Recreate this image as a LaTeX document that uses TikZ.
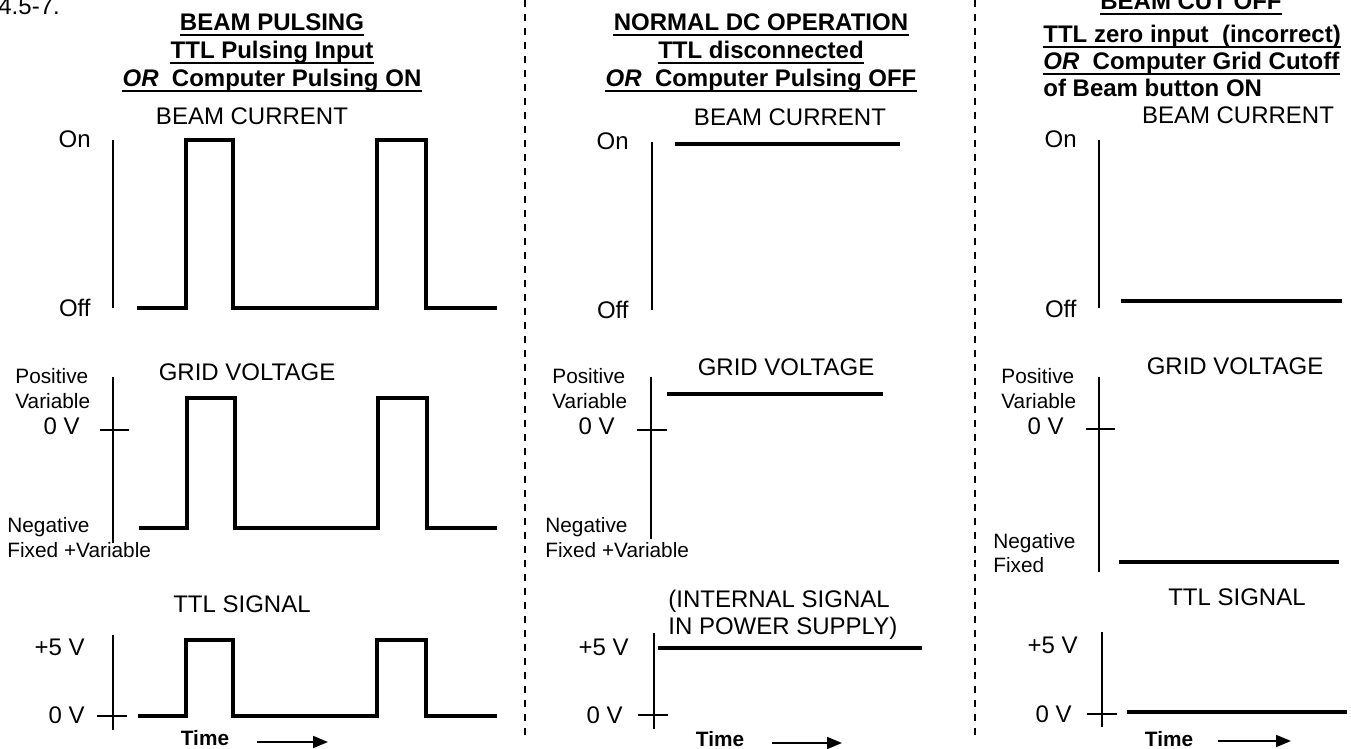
\documentclass[tikz,border=0pt]{standalone}
\usepackage{fontspec}
\setmainfont{Liberation Sans}
\usetikzlibrary{arrows.meta}

\begin{document}
\begin{tikzpicture}[x=0.5pt,y=-0.5pt,
		wave/.style={line width=1.8pt},
		axisline/.style={line width=0.9pt},
		divider/.style={line width=0.8pt,dash pattern=on 3.5pt off 3.5pt},
		lbl/.style={inner sep=0pt,font=\fontsize{12}{14}\selectfont},
		sml/.style={inner sep=0pt,font=\fontsize{10.4}{12}\selectfont},
		hd/.style={inner sep=0pt,font=\fontsize{12}{14}\selectfont\bfseries},
		timelbl/.style={inner sep=0pt,font=\fontsize{10.4}{12}\selectfont\bfseries},
		hdrule/.style={line width=0.9pt},
		timearrow/.style={line width=0.9pt,-{Triangle[length=7.5pt,width=6pt]}}]
		\useasboundingbox (0,0) rectangle (1351,749);
		
		\draw[divider] (525,0) -- (525,742);
		\draw[divider] (975,0) -- (975,742);
		
		\node[lbl,anchor=base west] (figref) at (-2,15) {4.5-7.};
		
		% headers
		\node[hd,anchor=base] (hdA1) at (272,31) {BEAM PULSING};
		\node[hd,anchor=base] (hdA2) at (272,59) {TTL Pulsing Input};
		\node[hd,anchor=base] (hdA3) at (272,87) {\textit{OR}\ \ Computer Pulsing ON};
		\node[hd,anchor=base] (hdB1) at (761,31) {NORMAL DC OPERATION};
		\node[hd,anchor=base] (hdB2) at (761,59) {TTL disconnected};
		\node[hd,anchor=base] (hdB3) at (761,87) {\textit{OR}\ \ Computer Pulsing OFF};
		\node[hd,anchor=base] (hdC1) at (1191,10) {BEAM CUT OFF};
		\node[hd,anchor=base west] (hdC2) at (1043,43) {TTL zero input\ \ (incorrect)};
		\node[hd,anchor=base west] (hdC3) at (1043,70) {\textit{OR}\ \ Computer Grid Cutoff};
		\node[hd,anchor=base west] (hdC4) at (1043,97) {of Beam button ON};
		\foreach \h in {hdA1,hdA2,hdA3,hdB1,hdB2,hdB3,hdC1,hdC2,hdC3}
		\draw[hdrule] ([yshift=-2pt]\h.base west) -- ([yshift=-2pt]\h.base east);
		
		% beam current
		\node[lbl,anchor=base] (bcA) at (252,125) {BEAM CURRENT};
		\node[lbl,anchor=base east] (onA) at (91,148) {On};
		\node[lbl,anchor=base east] (offA) at (91,316) {Off};
		\draw[axisline] (113,140) -- (113,308);
		\draw[wave] (137,308) -- (186,308) -- (186,140) -- (233,140) -- (233,308) -- (377,308)
		-- (377,140) -- (426,140) -- (426,308) -- (497,308);
		
		\node[lbl,anchor=base] (bcB) at (790,126) {BEAM CURRENT};
		\node[lbl,anchor=base east] (onB) at (629,150) {On};
		\node[lbl,anchor=base east] (offB) at (629,318) {Off};
		\draw[axisline] (652,142) -- (652,310);
		\draw[wave] (675,144) -- (900,144);
		
		\node[lbl,anchor=base] (bcC) at (1238,124) {BEAM CURRENT};
		\node[lbl,anchor=base east] (onC) at (1077,148) {On};
		\node[lbl,anchor=base east] (offC) at (1077,317) {Off};
		\draw[axisline] (1099,140) -- (1099,308);
		\draw[wave] (1121,301) -- (1342,301);
		
		% grid voltage
		\node[lbl,anchor=base] (gvA) at (247,380) {GRID VOLTAGE};
		\node[sml,anchor=base west] (posA) at (15,383) {Positive};
		\node[sml,anchor=base west] (varA) at (15,408) {Variable};
		\node[lbl,anchor=base east] (zgA) at (80,434) {0 V};
		\node[sml,anchor=base west] (negA) at (7,532) {Negative};
		\node[sml,anchor=base west] (fixA) at (7,557) {Fixed +Variable};
		\draw[axisline] (113,377) -- (113,543);
		\draw[axisline] (100,430) -- (129,430);
		\draw[wave] (139,528) -- (187,528) -- (187,398) -- (235,398) -- (235,528) -- (378,528)
		-- (378,398) -- (427,398) -- (427,528) -- (497,528);
		
		\node[lbl,anchor=base] (gvB) at (786,375) {GRID VOLTAGE};
		\node[sml,anchor=base west] (posB) at (552,383) {Positive};
		\node[sml,anchor=base west] (varB) at (552,408) {Variable};
		\node[lbl,anchor=base east] (zgB) at (615,434) {0 V};
		\node[sml,anchor=base west] (negB) at (545,532) {Negative};
		\node[sml,anchor=base west] (fixB) at (545,557) {Fixed +Variable};
		\draw[axisline] (651,377) -- (651,539);
		\draw[axisline] (637,430) -- (667,430);
		\draw[wave] (667,394) -- (883,394);
		
		\node[lbl,anchor=base] (gvC) at (1235,374) {GRID VOLTAGE};
		\node[sml,anchor=base west] (posC) at (1001,383) {Positive};
		\node[sml,anchor=base west] (varC) at (1001,408) {Variable};
		\node[lbl,anchor=base east] (zgC) at (1064,434) {0 V};
		\node[sml,anchor=base west] (negC) at (993,548) {Negative};
		\node[sml,anchor=base west] (fixC) at (993,572) {Fixed};
		\draw[axisline] (1099,377) -- (1099,572);
		\draw[axisline] (1086,429) -- (1115,429);
		\draw[wave] (1119,562) -- (1339,562);
		
		% ttl signal
		\node[lbl,anchor=base] (ttlA) at (242,612) {TTL SIGNAL};
		\node[lbl,anchor=base east] (fvA) at (85,655) {+5 V};
		\node[lbl,anchor=base east] (ztA) at (85,723) {0 V};
		\draw[axisline] (113,635) -- (113,730);
		\draw[axisline] (97,716) -- (127,716);
		\draw[wave] (138,716) -- (186,716) -- (186,640) -- (233,640) -- (233,716) -- (377,716)
		-- (377,640) -- (426,640) -- (426,716) -- (497,716);
		\node[timelbl,anchor=base] (timeA) at (205,745) {Time};
		\coordinate (arrA0) at (257,742);
		\coordinate (arrA1) at (328,742);
		\draw[timearrow] (arrA0) -- (arrA1);
		
		\node[lbl,anchor=base west] (intB1) at (668,607) {(INTERNAL SIGNAL};
		\node[lbl,anchor=base west] (intB2) at (668,634) {IN POWER SUPPLY)};
		\node[lbl,anchor=base east] (fvB) at (629,655) {+5 V};
		\node[lbl,anchor=base east] (ztB) at (623,723) {0 V};
		\draw[axisline] (654,633) -- (654,729);
		\draw[axisline] (638,715) -- (668,715);
		\draw[wave] (658,648) -- (922,648);
		\node[timelbl,anchor=base] (timeB) at (720,746) {Time};
		\coordinate (arrB0) at (772,743);
		\coordinate (arrB1) at (842,743);
		\draw[timearrow] (arrB0) -- (arrB1);
		
		\node[lbl,anchor=base] (ttlC) at (1237,605) {TTL SIGNAL};
		\node[lbl,anchor=base east] (fvC) at (1078,653) {+5 V};
		\node[lbl,anchor=base east] (ztC) at (1072,722) {0 V};
		\draw[axisline] (1102,632) -- (1102,727);
		\draw[axisline] (1087,714) -- (1117,714);
		\draw[wave] (1127,712) -- (1347,712);
		\node[timelbl,anchor=base] (timeC) at (1169,746) {Time};
		\coordinate (arrC0) at (1218,741);
		\coordinate (arrC1) at (1291,741);
		\draw[timearrow] (arrC0) -- (arrC1);
	\end{tikzpicture}
\end{document}
